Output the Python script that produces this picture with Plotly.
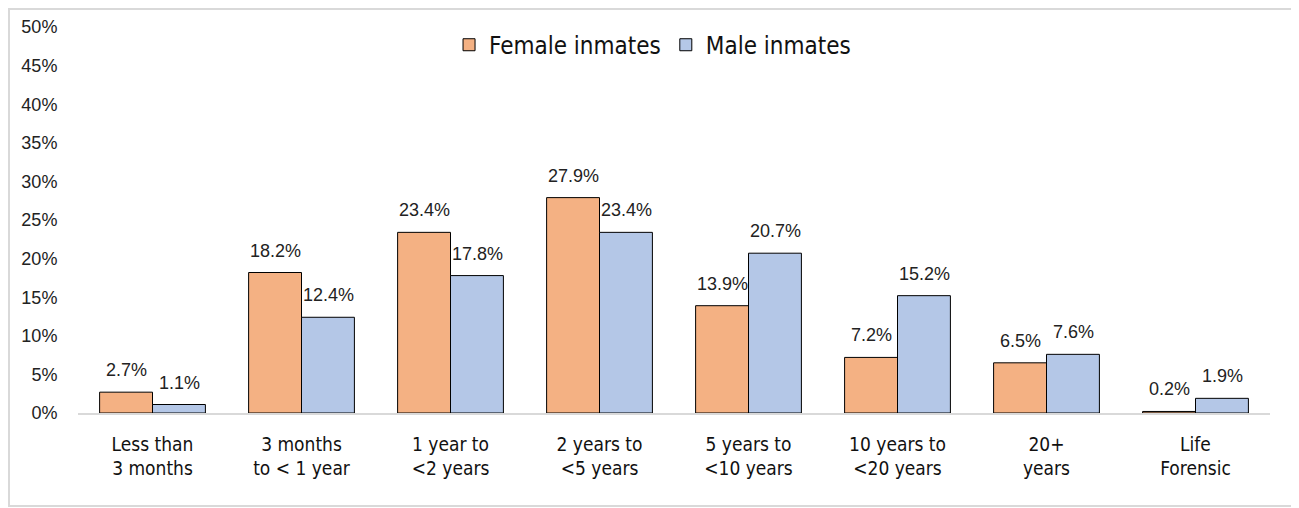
import plotly.graph_objects as go

categories = ["Less than<br>3 months", "3 months<br>to < 1 year", "1 year to<br><2 years",
              "2 years to<br><5 years", "5 years to<br><10 years", "10 years to<br><20 years",
              "20+<br>years", "Life<br>Forensic"]
female = [2.7, 18.2, 23.4, 27.9, 13.9, 7.2, 6.5, 0.2]
male = [1.1, 12.4, 17.8, 23.4, 20.7, 15.2, 7.6, 1.9]
y_ticks = [0, 5, 10, 15, 20, 25, 30, 35, 40, 45, 50]

narrow = "DejaVu Sans Condensed, Liberation Sans Narrow, Arial Narrow"
label_font = dict(family="Liberation Sans, Arial", size=18, color="#222")

fig = go.Figure()
fig.add_trace(go.Bar(
    x=categories, y=female, name="Female inmates",
    marker=dict(color="#F4B183", line=dict(color="#000", width=1)),
))
fig.add_trace(go.Bar(
    x=categories, y=male, name="Male inmates",
    marker=dict(color="#B4C7E7", line=dict(color="#000", width=1)),
))

# value labels sit a little higher above the bars than plotly's own outside text
for values, shift in [(female, -26.5), (male, 26.5)]:
    for cat, v in zip(categories, values):
        fig.add_annotation(x=cat, y=v, text=f"{v:.1f}%", showarrow=False,
                           xshift=shift, yshift=10, yanchor="bottom",
                           font=label_font)

# the page body adds an 8px margin, so the figure is sized to fit what remains
fig.update_layout(
    width=1291, height=500,
    margin=dict(l=70, r=29, t=19, b=95, autoexpand=False),
    paper_bgcolor="white", plot_bgcolor="white",
    barmode="group", bargap=0.29, bargroupgap=0,
    font=dict(family=narrow, color="#111"),
    legend=dict(orientation="h", x=0.482, xanchor="center", y=0.953, yanchor="middle",
                font=dict(size=24, family=narrow),
                bgcolor="rgba(0,0,0,0)", itemwidth=30, tracegroupgap=0),
    xaxis=dict(showline=True, linecolor="#d9d9d9", linewidth=1.5, automargin=False,
               ticks="outside", ticklen=13, tickcolor="rgba(0,0,0,0)",
               tickfont=dict(size=19, family=narrow, color="#111")),
    yaxis=dict(range=[0, 50], tickvals=y_ticks, ticktext=[f"{v}%" for v in y_ticks],
               showgrid=False, zeroline=False, showline=False, automargin=False,
               ticks="outside", ticklen=16, tickcolor="rgba(0,0,0,0)",
               tickfont=dict(size=18, family="Liberation Sans, Arial", color="#222")),
    shapes=[dict(type="rect", xref="paper", yref="paper",
                 x0=-0.0579, x1=1.0226, y0=-0.241, y1=1.0466,
                 line=dict(color="#d9d9d9", width=2), layer="below")],
)

fig.write_html("out.html")
